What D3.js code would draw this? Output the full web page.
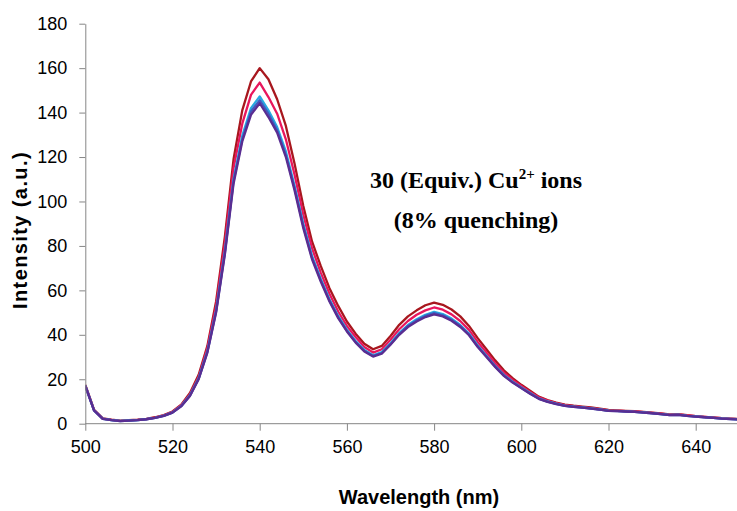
<!DOCTYPE html>
<html><head><meta charset="utf-8">
<script src="https://cdn.jsdelivr.net/npm/d3@7"></script>
<style>body{margin:0;background:#fff}svg{display:block}</style>
</head><body>
<svg id="c" width="737" height="511"></svg>
<script>
const wavelengths = d3.range(500, 651, 2);
const xTicks = [500, 520, 540, 560, 580, 600, 620, 640];
const yTicks = [0, 20, 40, 60, 80, 100, 120, 140, 160, 180];

const seriesDarkRed = [17.5,6.3,2.4,1.8,1.4,1.6,1.8,2.2,2.9,3.9,5.5,8.6,13.8,22,35,55,84,119,141,154,160,155,146,134,117,98,82,71,61,53,46,40.5,36,33.5,35,39.5,44.5,48.3,51,53.3,54.5,53.5,51.4,48.3,44,38.5,33.5,28.5,24,20.5,17.5,14.8,12.2,10.6,9.5,8.6,8.1,7.7,7.3,6.8,6.2,6.0,5.8,5.6,5.3,5.0,4.6,4.2,4.3,3.8,3.4,3.1,2.8,2.5,2.3,2.1];
const seriesCrimson = [17.3,6.1,2.3,1.7,1.3,1.5,1.7,2.1,2.7,3.7,5.3,8.3,13.2,21,34,53,81,115,135,148,153.5,147,139.5,128,112,94,79,68,58.5,50.5,44,39,34.5,32,33.5,37.8,42.5,46.2,49,51,52.3,51.3,49.2,46.2,42.2,36.8,32,27.2,23,19.7,17,14.3,11.9,10.4,9.3,8.4,7.9,7.5,7.0,6.5,6.0,5.9,5.7,5.5,5.2,4.9,4.5,4.1,4.2,3.7,3.35,3.05,2.75,2.45,2.25,2.05];
const seriesCyan = [17.1,6.0,2.25,1.65,1.25,1.45,1.65,2.05,2.65,3.6,5.1,8.0,12.8,20.4,32.7,51,77.5,110,129.5,142,147.3,141,133.5,122.5,107,90,75.5,65.3,56,48.5,42.3,37.2,33.2,30.8,32.2,36.2,40.8,44.4,47,49,50.3,49.3,47.3,44.4,40.6,35.2,30.6,26,22,18.9,16.3,13.8,11.4,10,9.0,8.1,7.7,7.3,6.9,6.4,5.9,5.75,5.55,5.35,5.05,4.75,4.35,3.95,4.05,3.55,3.25,2.95,2.65,2.35,2.15,1.95];
const seriesBlue = [17.0,6.0,2.2,1.6,1.2,1.4,1.6,2.0,2.6,3.5,5.0,7.9,12.6,20.2,32.3,50.5,76.7,109,128,140.5,145.6,139.5,132,121,106,89,74.7,64.6,55.5,48,41.8,36.8,32.8,30.5,31.8,35.8,40.4,44,46.5,48.5,49.8,48.8,46.8,44,40.2,34.8,30.3,25.7,21.7,18.7,16.1,13.6,11.3,9.9,8.9,8.0,7.6,7.2,6.8,6.3,5.8,5.7,5.5,5.3,5.0,4.7,4.3,3.9,4.0,3.5,3.2,2.9,2.6,2.3,2.1,1.9];
const seriesPurple = [17,6,2.2,1.6,1.2,1.4,1.6,2.0,2.6,3.5,5.0,7.8,12.5,20,32,50,76,108,127,139,144.2,138,131,120,105,88,74,64,55,47.5,41.5,36.5,32.5,30.2,31.5,35.5,40,43.5,46,48,49.2,48.3,46.3,43.5,39.8,34.5,30,25.5,21.5,18.5,16,13.5,11.2,9.8,8.8,8.0,7.6,7.2,6.8,6.3,5.8,5.7,5.5,5.3,5.0,4.7,4.3,3.9,4.0,3.5,3.2,2.9,2.6,2.3,2.1,1.9];

const series = [
  {values: seriesDarkRed, color: "#A8171E"},
  {values: seriesCrimson, color: "#E8175D"},
  {values: seriesCyan, color: "#27AAE1"},
  {values: seriesBlue, color: "#3E5BC0"},
  {values: seriesPurple, color: "#5A2D91"}
];

const svg = d3.select("#c");
const x = d3.scaleLinear().domain([500, 650]).range([85.3, 739.3]);
const y = d3.scaleLinear().domain([0, 180]).range([423.7, 23.7]);

const axisColor = "#868686";
const font = "'Liberation Sans', Arial, sans-serif";

// lines
const line = d3.line().x((d, i) => x(wavelengths[i])).y(d => y(d));
svg.append("clipPath").attr("id", "clp").append("rect")
  .attr("x", 85).attr("y", 0).attr("width", 737 - 85).attr("height", 424);
series.forEach(s => {
  svg.append("path").datum(s.values).attr("d", line)
    .attr("fill", "none").attr("stroke", s.color).attr("stroke-width", 2.3)
    .attr("stroke-linejoin", "round").attr("clip-path", "url(#clp)");
});

// axes
const gx = svg.append("g").attr("transform", `translate(0,${y(0)})`)
  .call(d3.axisBottom(x).tickValues(xTicks).tickSize(7).tickSizeOuter(0).tickPadding(10));
const gy = svg.append("g").attr("transform", `translate(${x(500)},0)`)
  .call(d3.axisLeft(y).tickValues(yTicks).tickSize(6).tickSizeOuter(0).tickPadding(12));
[gx, gy].forEach(g => {
  g.select(".domain").attr("stroke", axisColor).attr("stroke-width", 1);
  g.selectAll(".tick line").attr("stroke", axisColor);
  g.selectAll(".tick text").attr("fill", "#000").style("font-family", font).style("font-size", "18px");
});
gx.select(".domain").attr("d", `M${x(500)},0H737`);

// titles
svg.append("text").attr("x", 419).attr("y", 504).attr("text-anchor", "middle")
  .style("font-family", font).style("font-size", "20px").style("font-weight", "bold")
  .text("Wavelength (nm)");
svg.append("text").attr("transform", "translate(27,230) rotate(-90)").attr("text-anchor", "middle")
  .style("font-family", font).style("font-size", "20px").style("font-weight", "bold")
  .style("letter-spacing", "1.4px")
  .text("Intensity (a.u.)");

// annotation
const serif = "'Liberation Serif', 'Times New Roman', serif";
const t1 = svg.append("text").attr("x", 476).attr("y", 188).attr("text-anchor", "middle")
  .style("font-family", serif).style("font-size", "24px").style("font-weight", "bold");
t1.append("tspan").text("30 (Equiv.) Cu");
t1.append("tspan").attr("dy", -9).style("font-size", "15px").text("2+");
t1.append("tspan").attr("dy", 9).text(" ions");
svg.append("text").attr("x", 476).attr("y", 228).attr("text-anchor", "middle")
  .style("font-family", serif).style("font-size", "24px").style("font-weight", "bold")
  .text("(8% quenching)");
</script>
</body></html>
